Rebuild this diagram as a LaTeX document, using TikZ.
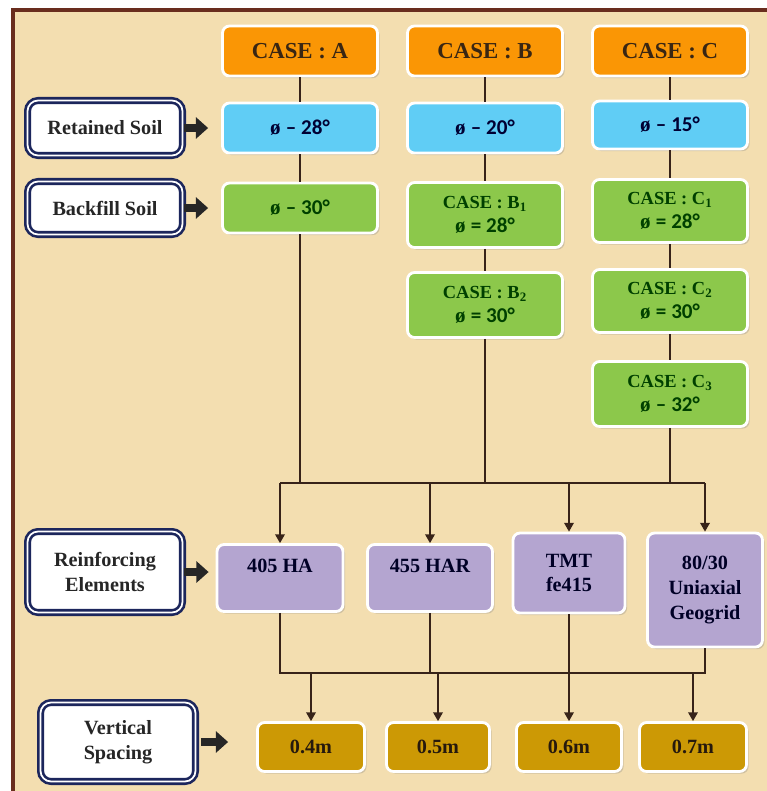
\documentclass[tikz,border=0pt]{standalone}
\usepackage{fontspec}
\setmainfont{Liberation Serif}
\newfontfamily\numfont{Carlito}
\usetikzlibrary{arrows.meta,shadows}

\definecolor{paper}{RGB}{243,222,176}
\definecolor{frame}{RGB}{105,45,30}
\definecolor{caseorange}{RGB}{250,150,5}
\definecolor{soilblue}{RGB}{96,205,245}
\definecolor{fillgreen}{RGB}{140,200,75}
\definecolor{reinfpurple}{RGB}{180,165,208}
\definecolor{spacegold}{RGB}{204,153,5}
\definecolor{navyline}{RGB}{28,38,92}
\definecolor{linkbrown}{RGB}{55,35,25}

\newcommand{\soilang}[2]{{\bfseries ø}~{\numfont\bfseries #1~#2°}}

\tikzset{
  box/.style = {rectangle, rounded corners = 4pt, draw = white, line width = 1.6pt,
    minimum width = 3.1cm, minimum height = 1cm, align = center,
    drop shadow = {shadow xshift = 1.2pt, shadow yshift = -1.2pt, opacity = 0.3}},
  casebox/.style = {box, fill = caseorange, text = black!70!brown,
    font = \fontsize{13}{15}\selectfont\bfseries},
  soilbox/.style = {box, fill = soilblue, text = black!80!blue,
    font = \fontsize{12}{14}\selectfont},
  fillbox/.style = {box, fill = fillgreen, text = black!75!green,
    font = \fontsize{12}{14}\selectfont},
  reinfbox/.style = {box, fill = reinfpurple, text = black!85!blue,
    font = \fontsize{11.5}{14}\selectfont\bfseries},
  spacebox/.style = {box, fill = spacegold, minimum height = 0.98cm, text = black!80!brown,
    font = \fontsize{11.5}{14}\selectfont\bfseries},
  legend/.style = {rectangle, rounded corners = 6pt, fill = white, draw = navyline,
    line width = 1.5pt, double = white, double distance = 1pt,
    minimum width = 3.1cm, align = center, text = black!85,
    font = \fontsize{11.5}{14}\selectfont\bfseries},
  link/.style = {draw = linkbrown, line width = 0.8pt, >={Triangle[length = 5pt, width = 5.5pt]}},
  fat/.style = {draw = black!85, line width = 4.5pt, -{Triangle[length = 7pt, width = 12pt]}}
}

\begin{document}
\begin{tikzpicture}[x = 0.02cm, y = -0.02cm]
\useasboundingbox (0, 0) rectangle (767, 791);
\fill [white] (0, 0) rectangle (767, 791);
\fill [paper] (13, 10) rectangle (767, 791);
\draw [frame, line width = 1.8pt] (13, 791) -- (13, 10) -- (767, 10);

% cases
\node [casebox] (caseA) at (300, 51) {CASE : A};
\node [casebox] (caseB) at (485, 51) {CASE : B};
\node [casebox] (caseC) at (670, 51) {CASE : C};

% retained soil
\node [legend, minimum height = 1.1cm] (retained) at (105, 128) {Retained Soil};
\node [soilbox] (soilA) at (300, 128) {\soilang{–}{28}};
\node [soilbox] (soilB) at (485, 128) {\soilang{–}{20}};
\node [soilbox, minimum height = 0.96cm] (soilC) at (670, 125) {\soilang{–}{15}};

% backfill soil
\node [legend, minimum height = 1.06cm] (backfill) at (105, 208) {Backfill Soil};
\node [fillbox] (fillA) at (300, 208) {\soilang{–}{30}};
\node [fillbox, minimum height = 1.3cm] (fillB1) at (485, 215)
  {{\bfseries\fontsize{10.5}{12}\selectfont CASE : B\textsubscript{1}}\\\soilang{=}{28}};
\node [fillbox, minimum height = 1.3cm] (fillB2) at (485, 305)
  {{\bfseries\fontsize{10.5}{12}\selectfont CASE : B\textsubscript{2}}\\\soilang{=}{30}};
\node [fillbox, minimum height = 1.26cm] (fillC1) at (670, 211)
  {{\bfseries\fontsize{10.5}{12}\selectfont CASE : C\textsubscript{1}}\\\soilang{=}{28}};
\node [fillbox, minimum height = 1.26cm] (fillC2) at (670, 301)
  {{\bfseries\fontsize{10.5}{12}\selectfont CASE : C\textsubscript{2}}\\\soilang{=}{30}};
\node [fillbox, minimum height = 1.3cm] (fillC3) at (670, 394)
  {{\bfseries\fontsize{10.5}{12}\selectfont CASE : C\textsubscript{3}}\\\soilang{–}{32}};

% reinforcing elements
\node [legend, minimum height = 1.62cm] (reinforce) at (105, 572) {Reinforcing\\Elements};
\node [reinfbox, minimum width = 2.52cm, inner ysep = 0pt, text height = 0.56cm,
  text depth = 0.78cm] (ha405) at (280, 578) {405 HA};
\node [reinfbox, minimum width = 2.5cm, inner ysep = 0pt, text height = 0.56cm,
  text depth = 0.78cm] (har455) at (430, 578) {455 HAR};
\node [reinfbox, minimum width = 2.24cm, minimum height = 1.6cm] (tmt) at (569, 573) {TMT\\fe415};
\node [reinfbox, minimum width = 2.3cm, minimum height = 2.28cm] (geo) at (705, 590)
  {80/30\\Uniaxial\\Geogrid};

% vertical spacing
\node [legend, minimum height = 1.58cm] (vspace) at (118, 742) {Vertical\\Spacing};
\node [spacebox, minimum width = 2.14cm] (s04) at (311, 747) {0.4m};
\node [spacebox, minimum width = 2.06cm] (s05) at (438, 747) {0.5m};
\node [spacebox, minimum width = 2.1cm] (s06) at (569, 747) {0.6m};
\node [spacebox, minimum width = 2.14cm] (s07) at (693, 747) {0.7m};

% bus points
\coordinate (busA) at (300, 483);
\coordinate (busB) at (485, 483);
\coordinate (busC) at (670, 483);
\coordinate (tl) at (280, 483);
\coordinate (tr) at (705, 483);
\coordinate (bl) at (280, 673);
\coordinate (br) at (705, 673);

% connectors
\draw [link] (caseA) -- (soilA) -- (fillA) -- (busA);
\draw [link] (caseB) -- (soilB) -- (fillB1) -- (fillB2) -- (busB);
\draw [link] (caseC) -- (soilC) -- (fillC1) -- (fillC2) -- (fillC3) -- (busC);
\draw [link] (tl) -- (tr);
\draw [link, ->] (tl) -- (ha405);
\draw [link, ->] (har455 |- tl) -- (har455);
\draw [link, ->] (tmt |- tl) -- (tmt);
\draw [link, ->] (tr) -- (geo);
\draw [link] (ha405) -- (bl) -- (br) -- (geo);
\draw [link] (har455) -- (har455 |- bl);
\draw [link, ->] (tmt) -- (s06);
\draw [link, ->] (s04 |- bl) -- (s04);
\draw [link, ->] (s05 |- bl) -- (s05);
\draw [link, ->] (s07 |- bl) -- (s07);

% legend arrows
\draw [fat, shorten > = 0.26cm] (retained) -- (soilA);
\draw [fat, shorten > = 0.26cm] (backfill) -- (fillA);
\draw [fat, shorten > = 0.14cm] (reinforce.east) -- (reinforce.east -| ha405.west);
\draw [fat, shorten < = 0.08cm, shorten > = 0.56cm] (vspace.east) -- (vspace.east -| s04.west);
\end{tikzpicture}
\end{document}
